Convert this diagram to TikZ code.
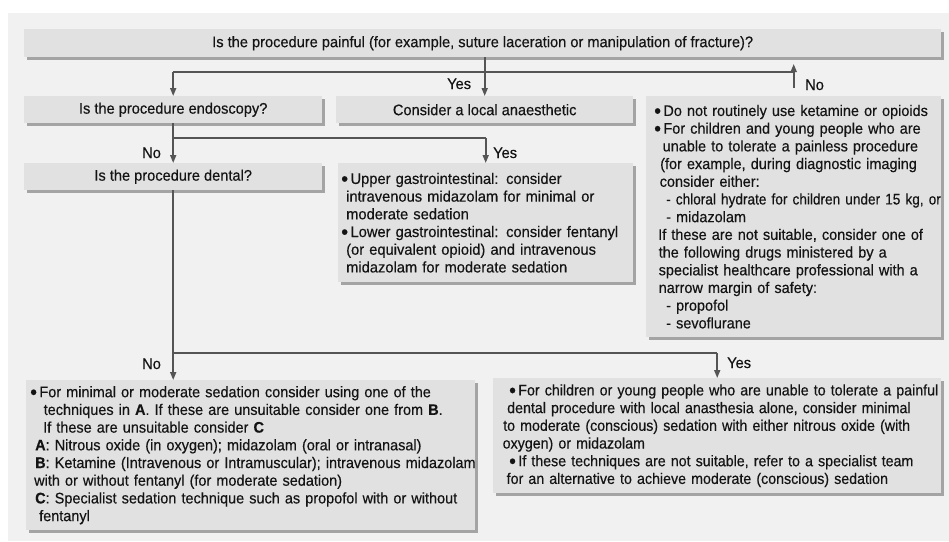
\documentclass[tikz,border=0pt]{standalone}
\usepackage{fontspec}
\setmainfont{Liberation Sans}[FakeStretch=0.955,FakeBold=0.35]
\newfontfamily\fR{Liberation Sans}[FakeStretch=0.945,FakeBold=0.35]
\newfontfamily\fRR{Liberation Sans}[FakeStretch=0.89,FakeBold=0.35]
\newfontfamily\fBR{Liberation Sans}[FakeStretch=0.93,FakeBold=0.35]
\newfontfamily\fBL{Liberation Sans}[FakeStretch=0.945,FakeBold=0.35]
\newfontfamily\fU{Liberation Sans}[FakeStretch=0.96,FakeBold=0.35]
\usetikzlibrary{shadows,arrows.meta}
\definecolor{panelc}{HTML}{F1F1F1}
\definecolor{boxc}{HTML}{E1E1E1}
\definecolor{shadc}{HTML}{A4A4A4}
\definecolor{linec}{HTML}{555555}
\definecolor{txtc}{HTML}{141414}
\newcommand{\bxl}[2]{\mbox{\hspace*{#1pt}#2}}
\newcommand{\bul}{\smash{\raisebox{-1.9pt}{\scalebox{1.35}{•}}}\kern2.4pt}
\begin{document}
\begin{tikzpicture}[x=1pt,y=-1pt,
  box/.style={fill=boxc, general shadow={fill=shadc, shadow xshift=3pt, shadow yshift=-3pt},
    anchor=north west, inner sep=0pt, text=txtc, font=\fontsize{15.3}{17.7}\selectfont},
  mbox/.style={box, align=left},
  lbl/.style={text=txtc, inner sep=0pt, font=\fontsize{15.3}{17.7}\selectfont},
  hline/.style={draw=linec, line width=1.1pt},
  varr/.style={draw=linec, line width=1.7pt, -{Triangle[length=8pt,width=6pt]}}
]
\useasboundingbox (0,0) rectangle (949,541);
\fill[panelc] (8,13) rectangle (949,541);

\node[box, minimum width=917pt, minimum height=28pt] (top) at (24,29)
  {Is the procedure painful (for example, suture laceration or manipulation of fracture)?};
\node[box, minimum width=298pt, minimum height=27pt] (endo) at (24,96) {Is the procedure endoscopy?};
\node[box, minimum width=297pt, minimum height=27pt] (local) at (336,96) {Consider a local anaesthetic};
\node[mbox, text width=295pt, minimum height=241pt] (rbox) at (646,96) {\fR%
\bxl{8}{\bul Do not routinely use ketamine or opioids}\\
\bxl{8}{\bul For children and young people who are}\\
\bxl{16.5}{unable to tolerate a painless procedure}\\
\bxl{14}{(for example, during diagnostic imaging}\\
\bxl{13.5}{consider either:}\\
\bxl{20}{\fRR - chloral hydrate for children under 15 kg, or}\\
\bxl{20}{- midazolam}\\
\bxl{12}{If these are not suitable, consider one of}\\
\bxl{12.5}{the following drugs ministered by a}\\
\bxl{12.5}{specialist healthcare professional with a}\\
\bxl{12.5}{narrow margin of safety:}\\
\bxl{20}{- propofol}\\
\bxl{20}{- sevoflurane}};
\node[box, minimum width=298pt, minimum height=27pt] (dental) at (24,163) {Is the procedure dental?};
\node[mbox, text width=295pt, minimum height=119pt] (ugi) at (338,163) {\fU%
\bxl{3}{\bul Upper gastrointestinal: consider}\\
\bxl{8}{intravenous midazolam for minimal or}\\
\bxl{8}{moderate sedation}\\
\bxl{3}{\bul Lower gastrointestinal: consider fentanyl}\\
\bxl{8}{(or equivalent opioid) and intravenous}\\
\bxl{8}{midazolam for moderate sedation}};
\node[mbox, text width=449pt, minimum height=150pt] (bl) at (26,380) {\fBL%
\bxl{4}{\bul For minimal or moderate sedation consider using one of the}\\
\bxl{17.5}{techniques in \textbf{A}. If these are unsuitable consider one from \textbf{B}.}\\
\bxl{17}{If these are unsuitable consider \textbf{C}}\\
\bxl{9}{\textbf{A}: Nitrous oxide (in oxygen); midazolam (oral or intranasal)}\\
\bxl{9}{\textbf{B}: Ketamine (Intravenous or Intramuscular); intravenous midazolam}\\
\bxl{8}{with or without fentanyl (for moderate sedation)}\\
\bxl{9}{\textbf{C}: Specialist sedation technique such as propofol with or without}\\
\bxl{13}{fentanyl}};
\node[mbox, text width=448pt, minimum height=115pt] (br) at (493,378) {\fBR%
\bxl{16}{\bul For children or young people who are unable to tolerate a painful}\\
\bxl{14}{dental procedure with local anasthesia alone, consider minimal}\\
\bxl{10}{to moderate (conscious) sedation with either nitrous oxide (with}\\
\bxl{9.5}{oxygen) or midazolam}\\
\bxl{16}{\bul If these techniques are not suitable, refer to a specialist team}\\
\bxl{13.5}{for an alternative to achieve moderate (conscious) sedation}};

\coordinate (h1) at (0,72);
\coordinate (h2) at (0,138);
\coordinate (h3) at (0,353);

\draw[hline] (h1 -| endo.north) -- (h1 -| rbox.north);
\draw[varr] (h1 -| endo.north) -- (endo.north);
\draw[varr] (top.south -| local.north) -- (local.north);
\draw[varr] ([yshift=8pt]rbox.north) -- ([yshift=32pt]rbox.north);

\draw[varr] (endo.south) -- (dental.north);
\draw[hline] (h2 -| endo.south) -- (h2 -| ugi.north);
\draw[varr] (h2 -| ugi.north) -- (ugi.north);

\draw[varr] (dental.south) -- (dental.south |- bl.north);
\draw[hline] (h3 -| dental.south) -- (h3 -| br.north);
\draw[varr] (h3 -| br.north) -- (br.north);

\node[lbl, anchor=base west] (yes1) at (447,89) {Yes};
\node[lbl, anchor=base west] (no1) at (805,90) {No};
\node[lbl, anchor=base west] (no2) at (142,158) {No};
\node[lbl, anchor=base west] (yes2) at (493,158) {Yes};
\node[lbl, anchor=base west] (no3) at (142,369) {No};
\node[lbl, anchor=base west] (yes3) at (727,368) {Yes};
\end{tikzpicture}
\end{document}
